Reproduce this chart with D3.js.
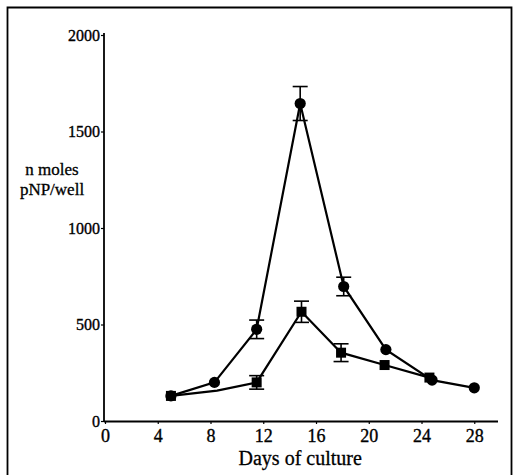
<!DOCTYPE html>
<html>
<head>
<meta charset="utf-8">
<script src="https://cdn.jsdelivr.net/npm/d3@7"></script>
<style>
  html, body { margin: 0; padding: 0; background: #fff; }
  svg { display: block; }
</style>
</head>
<body>
<svg id="chart" width="513" height="475"></svg>
<script>
// Days of culture and pNP produced per well
const circleDays   = [5, 8.3, 11.5, 14.8, 18.1, 21.3, 24.8, 28];
const circleValues = [130, 200, 475, 1645, 697, 370, 212, 172];
const circleErrors = [0, 0, 48, 88, 48, 0, 0, 0];

const squareDays   = [5, 8.5, 11.5, 14.9, 17.9, 21.2, 24.6];
const squareValues = [130, 157, 200, 566, 354, 290, 225];
const squareErrors = [0, 0, 35, 55, 46, 0, 0];
const squareMarked = [true, false, true, true, true, true, true];

const xTicks = [0, 4, 8, 12, 16, 20, 24, 28];
const yTicks = [0, 500, 1000, 1500, 2000];

const SERIF = "'Liberation Serif', 'Times New Roman', Times, serif";

const svg = d3.select("#chart").style("font-family", SERIF);

// outer frame
svg.append("path")
  .attr("d", "M7.5,476 V7.5 H511.5 V476")
  .attr("fill", "none").attr("stroke", "#000").attr("stroke-width", 1.8);

const x = d3.scaleLinear().domain([0, 29.8]).range([105, 498]);
const y = d3.scaleLinear().domain([0, 2000]).range([421, 35]);

// axes
const xAxis = d3.axisBottom(x).tickValues(xTicks).tickFormat(d3.format("d")).tickSize(3).tickPadding(4);
const gx = svg.append("g").attr("transform", "translate(0,421)").call(xAxis);
gx.select(".domain").attr("d", `M${x(0) - 1},0.5H${x(29.8)}`).attr("stroke-width", 1.8);
gx.selectAll("line").attr("stroke-width", 1.2);
gx.selectAll("text").attr("dy", "0.78em").attr("stroke", "#000").attr("stroke-width", 0.35)
  .style("font-family", SERIF).style("font-size", "18px");

const yAxis = d3.axisLeft(y).tickValues(yTicks).tickFormat(d3.format("d")).tickSize(3).tickPadding(1);
const gy = svg.append("g").attr("transform", "translate(104,0)").call(yAxis);
gy.select(".domain").attr("d", `M0,${y(2000) - 2}V${y(0) + 1}`).attr("stroke-width", 1.8);
gy.selectAll("line").attr("stroke-width", 1.2);
gy.selectAll("text").attr("dy", "0.32em").attr("stroke", "#000").attr("stroke-width", 0.35)
  .style("font-family", SERIF).style("font-size", "16px");

// axis titles
const titles = svg.append("g").attr("fill", "#000")
  .attr("stroke", "#000").attr("stroke-width", 0.3);
titles.append("text").attr("x", 52).attr("y", 175).attr("text-anchor", "middle")
  .style("font-family", SERIF).style("font-size", "17px").text("n moles");
titles.append("text").attr("x", 52).attr("y", 195).attr("text-anchor", "middle")
  .style("font-family", SERIF).style("font-size", "17px").text("pNP/well");
titles.append("text").attr("x", x(14.8)).attr("y", 465).attr("text-anchor", "middle")
  .style("font-family", SERIF).style("font-size", "20px").text("Days of culture");

const line = d3.line().x(d => x(d[0])).y(d => y(d[1]));

const circles = circleDays.map((d, i) => [d, circleValues[i], circleErrors[i]]);
const squares = squareDays.map((d, i) => [d, squareValues[i], squareErrors[i], squareMarked[i]]);

function drawErrors(data) {
  const g = svg.append("g").attr("stroke", "#000").attr("stroke-width", 1.6);
  data.filter(d => d[2] > 0).forEach(d => {
    const cx = x(d[0]), top = y(d[1] + d[2]), bot = y(d[1] - d[2]);
    g.append("line").attr("x1", cx).attr("x2", cx).attr("y1", top).attr("y2", bot);
    g.append("line").attr("x1", cx - 7.5).attr("x2", cx + 7.5).attr("y1", top).attr("y2", top);
    g.append("line").attr("x1", cx - 7.5).attr("x2", cx + 7.5).attr("y1", bot).attr("y2", bot);
  });
}

// square series
svg.append("path").datum(squares).attr("d", line)
  .attr("fill", "none").attr("stroke", "#000").attr("stroke-width", 2.2);
// circle series
svg.append("path").datum(circles).attr("d", line)
  .attr("fill", "none").attr("stroke", "#000").attr("stroke-width", 2.2);

drawErrors(squares);
drawErrors(circles);

svg.append("g").selectAll("rect").data(squares.filter(d => d[3])).join("rect")
  .attr("x", d => x(d[0]) - 5).attr("y", d => y(d[1]) - 5)
  .attr("width", 10).attr("height", 10).attr("fill", "#000");

svg.append("g").selectAll("circle").data(circles).join("circle")
  .attr("cx", d => x(d[0])).attr("cy", d => y(d[1])).attr("r", 5.6).attr("fill", "#000");
</script>
</body>
</html>
